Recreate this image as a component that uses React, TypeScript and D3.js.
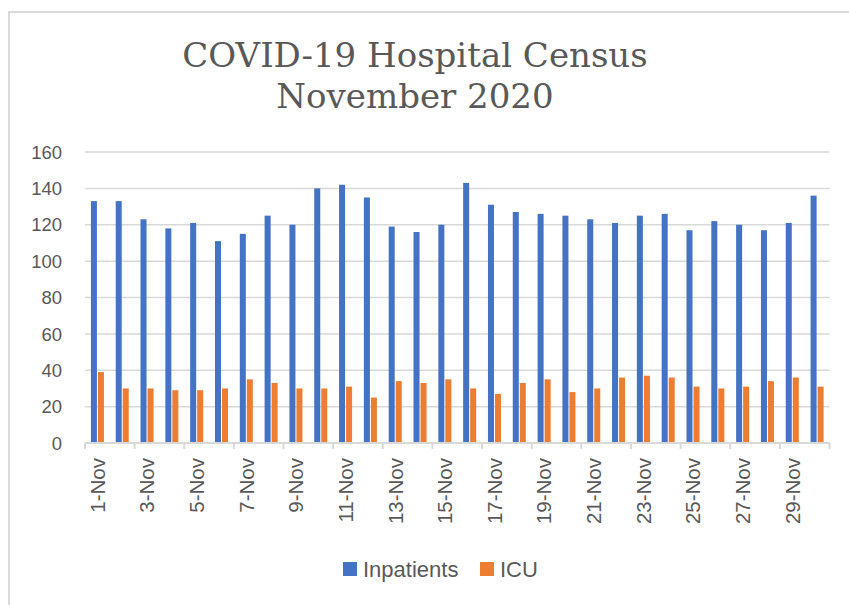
import { useEffect, useRef } from 'react';
import * as d3 from 'd3';

const days = d3.range(1, 31).map(d => `${d}-Nov`);
const inpatients = [133, 133, 123, 118, 121, 111, 115, 125, 120, 140, 142, 135, 119, 116, 120,
    143, 131, 127, 126, 125, 123, 121, 125, 126, 117, 122, 120, 117, 121, 136];
const icu = [39, 30, 30, 29, 29, 30, 35, 33, 30, 30, 31, 25, 34, 33, 35,
    30, 27, 33, 35, 28, 30, 36, 37, 36, 31, 30, 31, 34, 36, 31];
const seriesNames = ['Inpatients', 'ICU'];
const seriesColors = ['#4472C4', '#ED7D31'];
const yTicks = [0, 20, 40, 60, 80, 100, 120, 140, 160];
const titleLines = ['COVID-19 Hospital Census', 'November 2020'];

export default function App() {
    const svgRef = useRef<SVGSVGElement>(null);
    const width = 849;
    const height = 605;
    const margin = { left: 85, right: 20, top: 152, bottom: 162 };

    useEffect(() => {
        if (!svgRef.current) return;
        const svg = d3.select(svgRef.current);
        svg.selectAll('*').remove();

        const plotRight = 829.5;
        const plotBottom = 443;

        // chart frame
        svg.append('rect')
            .attr('x', 9).attr('y', 12)
            .attr('width', 900).attr('height', 700)
            .attr('fill', 'white')
            .attr('stroke', '#d9d9d9')
            .attr('stroke-width', 2);

        const x = d3.scaleBand<string>()
            .domain(days)
            .range([margin.left, plotRight])
            .padding(0);

        const xInner = d3.scaleBand<string>()
            .domain(seriesNames)
            .range([0, x.bandwidth()])
            .paddingInner(1 / 7)
            .paddingOuter(0.84);

        const y = d3.scaleLinear()
            .domain([0, 160])
            .range([plotBottom, margin.top]);

        // gridlines
        svg.append('g')
            .selectAll('line')
            .data(yTicks.filter(t => t > 0))
            .enter().append('line')
            .attr('x1', margin.left).attr('x2', plotRight)
            .attr('y1', d => y(d)).attr('y2', d => y(d))
            .attr('stroke', '#d9d9d9')
            .attr('stroke-width', 1.5);

        // y labels
        svg.append('g')
            .selectAll('text')
            .data(yTicks)
            .enter().append('text')
            .attr('x', 62)
            .attr('y', d => y(d))
            .attr('dy', '0.36em')
            .attr('text-anchor', 'end')
            .attr('font-family', 'Liberation Sans, Arial, sans-serif')
            .attr('font-size', 18.5)
            .attr('fill', '#595959')
            .text(d => d);

        // bars
        const groups = svg.append('g')
            .selectAll('g')
            .data(days)
            .enter().append('g')
            .attr('transform', d => `translate(${x(d)},0)`);

        groups.selectAll('rect')
            .data((_d, i) => [inpatients[i], icu[i]].map((v, j) => ({ key: seriesNames[j], v, color: seriesColors[j] })))
            .enter().append('rect')
            .attr('x', d => xInner(d.key)!)
            .attr('width', xInner.bandwidth())
            .attr('y', d => y(d.v))
            .attr('height', d => plotBottom - y(d.v))
            .attr('fill', d => d.color);

        // x axis line + ticks
        svg.append('line')
            .attr('x1', margin.left).attr('x2', plotRight)
            .attr('y1', plotBottom).attr('y2', plotBottom)
            .attr('stroke', '#d9d9d9')
            .attr('stroke-width', 2);

        const tickPos = days.filter((_d, i) => i % 2 === 0).map(d => x(d)!).concat([plotRight]);
        svg.append('g')
            .selectAll('line')
            .data(tickPos)
            .enter().append('line')
            .attr('x1', d => d).attr('x2', d => d)
            .attr('y1', plotBottom).attr('y2', plotBottom + 6)
            .attr('stroke', '#d9d9d9')
            .attr('stroke-width', 2);

        // x labels
        svg.append('g')
            .selectAll('text')
            .data(days.filter((_d, i) => i % 2 === 0))
            .enter().append('text')
            .attr('transform', d => `translate(${x(d)! + x.bandwidth() / 2},458) rotate(-90)`)
            .attr('dy', '0.36em')
            .attr('text-anchor', 'end')
            .attr('font-family', 'Liberation Sans, Arial, sans-serif')
            .attr('font-size', 20.5)
            .attr('fill', '#595959')
            .text(d => d);

        // title
        svg.append('text')
            .attr('x', 415)
            .attr('text-anchor', 'middle')
            .attr('font-family', 'DejaVu Serif, serif')
            .attr('font-size', 34)
            .attr('fill', '#595959')
            .selectAll('tspan')
            .data(titleLines)
            .enter().append('tspan')
            .attr('x', 415)
            .attr('y', (_d, i) => 67 + i * 41)
            .text(d => d);

        // legend
        const legendItems = [
            { name: seriesNames[0], color: seriesColors[0], x: 343 },
            { name: seriesNames[1], color: seriesColors[1], x: 480 },
        ];
        const lg = svg.append('g')
            .selectAll('g')
            .data(legendItems)
            .enter().append('g')
            .attr('transform', d => `translate(${d.x},562)`);
        lg.append('rect')
            .attr('width', 14).attr('height', 14)
            .attr('fill', d => d.color);
        lg.append('text')
            .attr('x', 20).attr('y', 7)
            .attr('dy', '0.36em')
            .attr('font-family', 'Liberation Sans, Arial, sans-serif')
            .attr('font-size', 22)
            .attr('fill', '#595959')
            .text(d => d.name);
    }, []);

    return (
        <svg ref={svgRef} width={width} height={height}
            style={{ position: 'absolute', left: 0, top: 0, background: 'white' }} />
    );
}
